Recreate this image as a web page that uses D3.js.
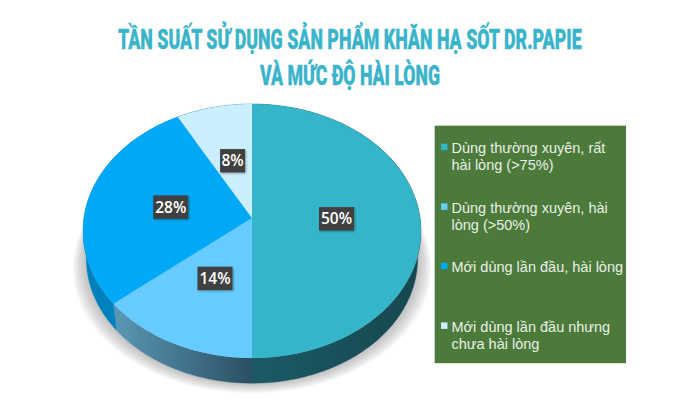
<!DOCTYPE html>
<html>
<head>
<meta charset="utf-8">
<script src="https://cdn.jsdelivr.net/npm/d3@7"></script>
<style>html,body{margin:0;padding:0;background:#fff}svg{display:block}</style>
</head>
<body>
<svg id="c" width="699" height="400"></svg>
<script>
const titleLines = ["TẦN SUẤT SỬ DỤNG SẢN PHẨM KHĂN HẠ SỐT DR.PAPIE", "VÀ MỨC ĐỘ HÀI LÒNG"];
const values = [50, 14, 28, 8];
const labels = ["50%", "14%", "28%", "8%"];
const legendLines = [
  ["Dùng thường xuyên, rất", "hài lòng (>75%)"],
  ["Dùng thường xuyên, hài", "lòng (>50%)"],
  ["Mới dùng lần đầu, hài lòng"],
  ["Mới dùng lần đầu nhưng", "chưa hài lòng"]
];
const faceColors = ["#35b5c9", "#66ccff", "#00a9f7", "#ccefff"];
const sideFrom = ["#1b5a66", "#5b98b6", "#007fbb", "#007fbb"];
const sideTo = ["#17474f", "#2b4f63", "#0088c8", "#0088c8"];

const svg = d3.select("#c");
const defs = svg.append("defs");
const ds = defs.append("filter").attr("id","ds").attr("x","-30%").attr("y","-30%").attr("width","160%").attr("height","160%");
ds.append("feDropShadow").attr("dx",1).attr("dy",1).attr("stdDeviation",1.2).attr("flood-color","#000").attr("flood-opacity",.35);
values.forEach((v,i)=>{
  const g = defs.append("linearGradient").attr("id","side"+i);
  g.append("stop").attr("offset","0%").attr("stop-color",sideFrom[i]);
  g.append("stop").attr("offset","100%").attr("stop-color",sideTo[i]);
});

// projection of the tilted disc
const apexX = 252, apexY = 218, p = 0.1024, a = 168.1, b = 125.7;
const depth = 28, shrink = 0.98;
function proj(angle, f, lower){
  const u = Math.sin(angle)*f, v = -Math.cos(angle)*f, d = 1 - p*v;
  const s = lower ? shrink : 1;
  return [apexX + s*a*u/d, apexY + (lower?depth:0) + s*b*v/d];
}
const pie = d3.pie().sort(null).value(d=>d).startAngle(0).endAngle(2*Math.PI);
const arcs = pie(values);
const line = d3.line();
const ring = (s,e,lower)=>{
  const n = Math.max(2, Math.ceil((e-s)/0.02));
  return d3.range(n+1).map(i=>proj(s+(e-s)*i/n,1,lower));
};

// soft cast shadow: stacked translucent rings that fade outwards
svg.append("g").selectAll("path").data(d3.range(10)).join("path")
  .attr("d", k=> line(ring(0,2*Math.PI,true).map(q=>[apexX+(q[0]-apexX)*(1.01+k*0.008), q[1]+1+k*1])) + "Z")
  .attr("fill","#777").attr("fill-opacity",0.055);

// side walls
svg.append("g").selectAll("path").data(arcs).join("path")
  .attr("d", d=> line(ring(d.startAngle,d.endAngle,false).concat(ring(d.startAngle,d.endAngle,true).reverse()))+"Z")
  .attr("fill",(d,i)=>`url(#side${i})`)
  .attr("stroke",(d,i)=>`url(#side${i})`).attr("stroke-width",.4);

// top faces
svg.append("g").selectAll("path").data(arcs).join("path")
  .attr("d", d=> line([[apexX,apexY]].concat(ring(d.startAngle,d.endAngle,false)))+"Z")
  .attr("fill",(d,i)=>faceColors[i]);

// value labels
const lab = svg.append("g").selectAll("g").data(arcs).join("g")
  .attr("transform", d=>{
    const q = proj((d.startAngle+d.endAngle)/2, .5, false);
    return `translate(${q[0]+.5},${q[1]+.8})`;
  });
lab.append("rect")
  .attr("x",(d,i)=> i===3 ? -12.5 : -17.5).attr("width",(d,i)=> i===3 ? 25 : 35)
  .attr("y",-11.7).attr("height",23.4).attr("fill","#404040").attr("filter","url(#ds)");
lab.append("text").text((d,i)=>labels[i]).attr("text-anchor","middle").attr("y",5.6)
  .attr("font-family","'Open Sans'").attr("font-weight",600).attr("font-size",15.5).attr("fill","#fff");

// title: one bold face, squeezed horizontally to the reference's condensed width
const titleX = [[118,582],[260,440]];
svg.append("g").selectAll("text").data(titleLines).join("text")
  .text(d=>d)
  .attr("font-family","'Roboto'").attr("font-weight",900).attr("font-size",27.5).attr("fill","#3ab4cb")
  .attr("stroke","#3ab4cb").attr("stroke-width",.35)
  .attr("transform",function(d,i){
    const sx = (titleX[i][1]-titleX[i][0]) / this.getComputedTextLength();
    return `translate(${titleX[i][0]},${i?85:49}) scale(${sx},1)`;
  });

// legend
svg.append("rect").attr("x",434.7).attr("y",125.7).attr("width",191.3).attr("height",237.5).attr("fill","#4b7a3b");
const baselines = [153,212.7,272,331.7];
const lg = svg.append("g").selectAll("g").data(legendLines).join("g");
lg.append("rect").attr("x",441).attr("y",(d,i)=>baselines[i]-9.3).attr("width",6.5).attr("height",6.5)
  .attr("fill",(d,i)=>faceColors[i]);
lg.selectAll("text").data((d,i)=>d.map((t,j)=>({t,y:baselines[i]+j*17.2}))).join("text")
  .text(d=>d.t).attr("x",451.5).attr("y",d=>d.y)
  .attr("font-family","'Liberation Sans'").attr("font-size",14.5).attr("fill","#e9f0e6");
</script>
</body>
</html>
